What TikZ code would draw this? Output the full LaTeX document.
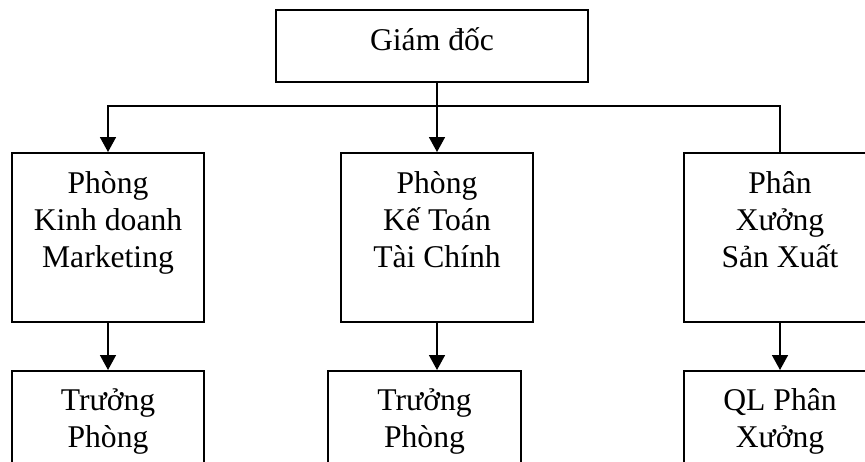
\documentclass[tikz,border=0pt]{standalone}
\usepackage{fontspec}
\setmainfont{Liberation Serif}
\usepackage{tikz}
\usetikzlibrary{arrows.meta, positioning}

\begin{document}
\begin{tikzpicture}[
  x=0.02cm, y=-0.02cm,
  box/.style={draw, line width=1.1pt, minimum width=192*0.02cm, inner sep=0pt},
  lbl/.style={anchor=base, align=center, inner sep=0pt,
              font=\fontsize{18}{20.8}\selectfont},
  ar/.style={-{Triangle[length=8.5pt, width=9pt]}, line width=1.1pt}
]
  \clip (0,0) rectangle (865,461);

  % director
  \node[box, minimum width=312*0.02cm, minimum height=72*0.02cm] (gd) at (432,46) {};
  \node[lbl] (gdt) at (432,50) {Giám đốc};

  % departments (base = last line)
  \node[box, minimum height=169*0.02cm] (pkd) at (108,237.5) {};
  \node[box, minimum height=169*0.02cm] (pkt) at (437,237.5) {};
  \node[box, minimum height=169*0.02cm] (pxs) at (780,237.5) {};
  \node[lbl] (pkdt) at (108,267) {Phòng\\Kinh doanh\\Marketing};
  \node[lbl] (pktt) at (437,267) {Phòng\\Kế Toán\\Tài Chính};
  \node[lbl] (pxst) at (780,267) {Phân\\Xưởng\\Sản Xuất};

  % heads, cut off at the bottom
  \node[box, anchor=north, minimum height=130*0.02cm] (tp1) at (108,370) {};
  \node[box, anchor=north, minimum height=130*0.02cm, minimum width=193*0.02cm] (tp2) at (424.5,370) {};
  \node[box, anchor=north, minimum height=130*0.02cm] (ql) at (780,370) {};
  \node[lbl] (tp1t) at (108,447) {Trưởng\\Phòng};
  \node[lbl] (tp2t) at (424.5,447) {Trưởng\\Phòng};
  \node[lbl] (qlt) at (780,447) {QL Phân\\Xưởng};

  % connectors
  \coordinate (bus) at (437,106);
  \draw[ar] (gd.south -| pkt.north) -- (pkt.north);
  \draw[ar] (pxs.north) |- (bus) -| (pkd.north);
  \draw[ar] (pkd.south) -- (tp1.north);
  \draw[ar] (pkt.south) -- (pkt.south |- tp2.north);
  \draw[ar] (pxs.south) -- (ql.north);
\end{tikzpicture}
\end{document}
